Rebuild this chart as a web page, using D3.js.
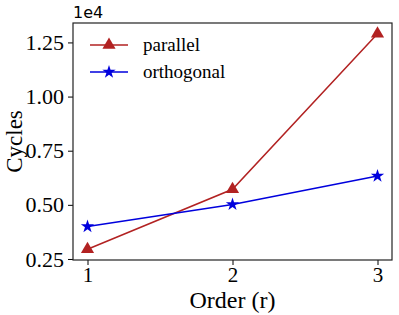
<!DOCTYPE html>
<html>
<head>
<meta charset="utf-8">
<script src="https://cdn.jsdelivr.net/npm/d3@7"></script>
<style>
  body { margin: 0; background: #fff; }
  text { font-family: "Liberation Serif", "Times New Roman", serif; fill: #000; }
</style>
</head>
<body>
<svg id="chart" width="399" height="315"></svg>
<script>
// data
let orders = [1, 2, 3]
let parallel = [2950, 5720, 12900]
let orthogonal = [4000, 5020, 6330]
let yTicks = [2500, 5000, 7500, 10000, 12500]
let seriesNames = ["parallel", "orthogonal"]

let svg = d3.select("#chart")
let margin = {top: 23, right: 7, bottom: 55, left: 73},
    width = 399 - margin.left - margin.right,
    height = 315 - margin.top - margin.bottom

let g = svg.append("g").attr("transform", "translate(" + margin.left + "," + margin.top + ")")

// matplotlib style 5% padding
let x = d3.scaleLinear().domain([0.9, 3.1]).range([0, width])
let lo = d3.min(parallel.concat(orthogonal)), hi = d3.max(parallel.concat(orthogonal))
let pad = (hi - lo) * 0.05
let y = d3.scaleLinear().domain([lo - pad, hi + pad]).range([height, 0])

// axes
let xAxis = g.append("g")
    .attr("transform", "translate(0," + height + ")")
    .call(d3.axisBottom(x).tickValues(orders).tickFormat(d3.format("d")).tickSizeOuter(0).tickSize(5).tickPadding(2))
let yAxis = g.append("g")
    .call(d3.axisLeft(y).tickValues(yTicks).tickFormat(d => (d / 10000).toFixed(2)).tickSizeOuter(0).tickSize(5).tickPadding(4))

;[xAxis, yAxis].forEach(a => {
    a.attr("font-family", null).attr("font-size", null)
    a.select(".domain").remove()
    a.selectAll(".tick line").attr("stroke", "#000").attr("stroke-width", 1)
    a.selectAll(".tick text").style("font-family", "'Liberation Serif', serif")
})
yAxis.selectAll(".tick text").style("font-size", "22px")
xAxis.selectAll(".tick text").style("font-size", "21px")

// frame
g.append("rect")
    .attr("width", width).attr("height", height)
    .attr("fill", "none").attr("stroke", "#222").attr("stroke-width", 1.2)

// offset label
g.append("text")
    .attr("x", 0).attr("y", -5)
    .style("font-family", "'DejaVu Sans', sans-serif").style("font-size", "16px")
    .text("1e4")

// axis titles
svg.append("text")
    .attr("x", margin.left + width / 2).attr("y", 308)
    .style("text-anchor", "middle").style("font-size", "24px")
    .text("Order (r)")
svg.append("text")
    .attr("transform", "rotate(-90)")
    .attr("x", -(margin.top + height / 2)).attr("y", 22)
    .style("text-anchor", "middle").style("font-size", "23px")
    .text("Cycles")

let line = d3.line().x((d, i) => x(orders[i])).y(d => y(d))
let tri = d3.symbol().type(d3.symbolTriangle).size(75)
let star = d3.symbol().type(d3.symbolStar).size(55)

let series = [
    {name: seriesNames[0], vals: parallel, color: "#b22222", sym: tri},
    {name: seriesNames[1], vals: orthogonal, color: "#0000dd", sym: star}
]

series.forEach(s => {
    g.append("path").datum(s.vals)
        .attr("d", line).attr("fill", "none")
        .attr("stroke", s.color).attr("stroke-width", 1.5)
    g.selectAll(null).data(s.vals).enter().append("path")
        .attr("d", s.sym)
        .attr("transform", (d, i) => "translate(" + x(orders[i]) + "," + y(d) + ")")
        .attr("fill", s.color)
})

// legend
let leg = g.append("g").attr("transform", "translate(17,22)")
series.forEach((s, i) => {
    let row = leg.append("g").attr("transform", "translate(0," + i * 27 + ")")
    row.append("line").attr("x1", 0).attr("x2", 38).attr("stroke", s.color).attr("stroke-width", 1.5)
    row.append("path").attr("d", s.sym).attr("transform", "translate(19,0)").attr("fill", s.color)
    row.append("text").attr("x", 53).attr("dy", "0.33em").style("font-size", "19px").text(s.name)
})
</script>
</body>
</html>
